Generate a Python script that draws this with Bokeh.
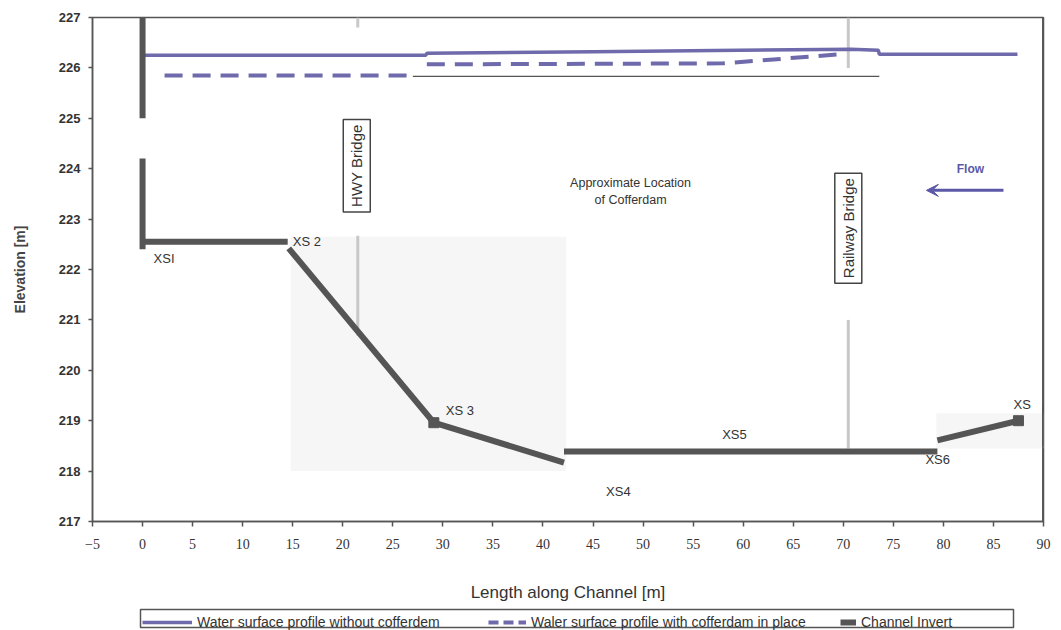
import math
import numpy as np
from bokeh.plotting import figure
from bokeh.layouts import column
from bokeh.models import (Label, Arrow, VeeHead, Legend, LegendItem, ColumnDataSource,
                          FixedTicker, Range1d, Span)
from bokeh.core.properties import value
from bokeh.embed import file_html
from bokeh.resources import INLINE

nan = np.nan

# Water surface profile without cofferdam (solid)
ws_x = [0, 28.3, 28.4, 45, 70.8, 73.5, 73.6, 87.4]
ws_y = [226.25, 226.25, 226.29, 226.32, 226.37, 226.35, 226.27, 226.27]

# Water surface profile with cofferdam in place (dashed)
wc_x = [2.2, 27.1, nan, 28.4, 58.0, 70.3]
wc_y = [225.85, 225.85, nan, 226.07, 226.09, 226.28]

# Channel invert
inv_x = [0, 0, nan, 0, 0, nan, 0, 14.5, nan, 14.6, 29.1, 42.1, nan, 42.1, 79.4, nan, 79.4, 87.5]
inv_y = [227, 225.0, nan, 224.2, 222.4, nan, 222.55, 222.55, nan, 222.42, 218.96, 218.17, nan,
         218.39, 218.39, nan, 218.61, 219.0]

# cross-section markers
mk_x = [29.1, 87.5]
mk_y = [218.96, 219.0]

# cross-section labels
xs_labels = ["XSI", "XS 2", "XS 3", "XS4", "XS5", "XS6", "XS"]
xs_x = [1.1, 15.0, 30.3, 46.3, 57.9, 78.2, 87.0]
xs_y = [222.22, 222.56, 219.2, 217.6, 218.73, 218.23, 219.32]

# bridge piers (light grey)
br_x = [21.5, 70.5, 21.5, 70.5]
br_y0 = [222.67, 221.0, 227.0, 227.0]
br_y1 = [220.69, 218.45, 226.8, 226.0]

x_ticks = list(range(-5, 91, 5))
y_ticks = list(range(217, 228))

legend_labels = ["Water surface profile without cofferdem",
                 "Waler surface profile with cofferdam in place",
                 "Channel Invert"]

W = 1052
H1 = 606
FL, FR = 92, 1043
p = figure(width=W, height=H1, x_range=(-5, 90), y_range=(217, 227),
           output_backend="svg", toolbar_location=None,
           min_border_left=FL, min_border_right=W - FR, min_border_top=17,
           min_border_bottom=H1 - 521)
p.grid.visible = False
p.outline_line_color = "#555555"
p.outline_line_width = 1.5
p.background_fill_color = "white"

# scanned patches
p.quad(left=[14.8], right=[42.3], top=[222.65], bottom=[218.0], fill_color="#f6f6f6", line_color=None)
p.quad(left=[79.3], right=[90], top=[219.15], bottom=[218.45], fill_color="#f6f6f6", line_color=None)

p.segment(x0=br_x, y0=br_y0, x1=br_x, y1=br_y1, line_color="#c8c8c8", line_width=3)

# thin line under pasted strip
p.line([27.0, 73.6], [225.83, 225.83], line_color="#555555", line_width=1.2)
p.line([90, 90], [218.5, 219.3], line_color="#555555", line_width=3)
# right border of the plot frame
p.add_layout(Span(location=89.93, dimension="height", line_color="#555555", line_width=1.5))

BLUE = "#6e6aab"
GREY = "#555555"
p.line(ws_x, ws_y, line_color=BLUE, line_width=3.5)
p.line(wc_x, wc_y, line_color=BLUE, line_width=4, line_dash="18 10")
p.line(inv_x, inv_y, line_color=GREY, line_width=6)
p.scatter(mk_x, mk_y, marker="square", size=10, color=GREY)

src = ColumnDataSource(dict(x=xs_x, y=xs_y, t=xs_labels))
p.text(x="x", y="y", text="t", source=src, text_font=value("Liberation Sans"),
       text_font_size="13px", text_color="#333333", text_baseline="middle", text_align="left")

p.add_layout(Label(x=21.4, y=224.06, text="HWY Bridge", angle=math.pi / 2,
                   text_align="center", text_baseline="middle", text_font="Liberation Sans",
                   text_font_size="15px", text_color="#333333", border_line_color="#444444",
                   border_line_width=1.5, padding=5))
p.add_layout(Label(x=70.5, y=222.82, text="Railway Bridge", angle=math.pi / 2,
                   text_align="center", text_baseline="middle", text_font="Liberation Sans",
                   text_font_size="15px", text_color="#333333", border_line_color="#444444",
                   border_line_width=1.5, padding=5))
p.add_layout(Label(x=48.75, y=223.54, text="Approximate Location\nof Cofferdam",
                   text_align="center", text_baseline="middle", text_font="Liberation Sans",
                   text_font_size="12.5px", text_color="#333333"))
p.add_layout(Label(x=82.7, y=224.0, text="Flow", text_align="center", text_baseline="middle",
                   text_font="Liberation Sans", text_font_style="bold", text_font_size="12px",
                   text_color="#5c58a8"))
p.add_layout(Arrow(x_start=86.0, y_start=223.57, x_end=78.3, y_end=223.57,
                   line_color="#5c58a8", line_width=3,
                   end=VeeHead(size=12, fill_color="#5c58a8", line_color="#5c58a8")))

# axes
p.xaxis.ticker = FixedTicker(ticks=x_ticks)
p.yaxis.ticker = FixedTicker(ticks=y_ticks)
p.xaxis.minor_tick_line_color = None
p.yaxis.minor_tick_line_color = None
for ax in (p.xaxis, p.yaxis):
    ax.axis_line_color = GREY
    ax.axis_line_width = 1.5
    ax.major_tick_line_color = GREY
    ax.major_tick_line_width = 1.5
p.xaxis.major_tick_out = 5
p.xaxis.major_tick_in = 0
p.yaxis.major_tick_out = 4
p.yaxis.major_tick_in = 0
p.xaxis.major_label_text_font = "Liberation Serif"
p.xaxis.major_label_text_font_size = "14px"
p.xaxis.major_label_text_color = "#333333"
p.xaxis.major_label_standoff = 12
p.yaxis.major_label_text_font = "Liberation Sans"
p.yaxis.major_label_text_font_style = "bold"
p.yaxis.major_label_text_font_size = "13px"
p.yaxis.major_label_text_color = "#333333"
p.yaxis.major_label_standoff = 8

p.xaxis.axis_label = "Length along Channel [m]"
p.xaxis.axis_label_text_font = "Liberation Sans"
p.xaxis.axis_label_text_font_style = "normal"
p.xaxis.axis_label_text_font_size = "17px"
p.xaxis.axis_label_text_color = "#333333"
p.xaxis.axis_label_standoff = 31

p.yaxis.axis_label = "Elevation [m]"
p.yaxis.axis_label_text_font = "Liberation Sans"
p.yaxis.axis_label_text_font_style = "bold"
p.yaxis.axis_label_text_font_size = "14px"
p.yaxis.axis_label_text_color = "#444444"
p.yaxis.axis_label_standoff = 28

# legend strip below the chart (its frame is aligned with the main frame)
H2 = 24
q = figure(width=W, height=H2, x_range=Range1d(FL, FR), y_range=Range1d(0, H2),
           output_backend="svg", toolbar_location=None, x_axis_type=None, y_axis_type=None,
           min_border_left=FL, min_border_right=W - FR, min_border_top=0, min_border_bottom=0)
q.grid.visible = False
q.outline_line_color = None
q.quad(left=[140], right=[1013], top=[H2 - 3], bottom=[3], fill_color=None,
       line_color=GREY, line_width=1.5)
l1 = q.line([0, 1], [-50, -50], line_color=BLUE, line_width=3.5)
l2 = q.line([0, 1], [-50, -50], line_color=BLUE, line_width=4, line_dash="10 5")
l3 = q.line([0, 1], [-50, -50], line_color=GREY, line_width=6)

leg_common = dict(orientation="horizontal", glyph_height=10, label_height=14,
                  label_text_font="Liberation Sans", label_text_color="#333333",
                  label_text_font_size="14px", padding=1, margin=0, label_standoff=5,
                  border_line_color=None, background_fill_alpha=0)
q.add_layout(Legend(items=[LegendItem(label=legend_labels[0], renderers=[l1])],
                    location=(142 - FL, 0), glyph_width=50, **leg_common))
q.add_layout(Legend(items=[LegendItem(label=legend_labels[1], renderers=[l2])],
                    location=(488 - FL, 0), glyph_width=38, **leg_common))
q.add_layout(Legend(items=[LegendItem(label=legend_labels[2], renderers=[l3])],
                    location=(840 - FL, 0), glyph_width=16, **leg_common))

layout = column(p, q, spacing=0)
open("out.html", "w").write(file_html(layout, INLINE))
